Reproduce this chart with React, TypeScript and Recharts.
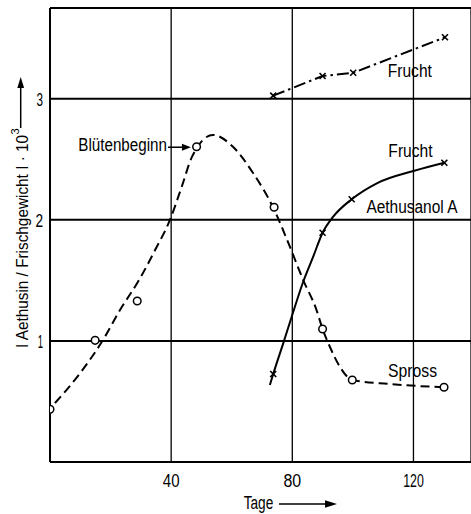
import React from "react";
import {
  ComposedChart,
  Line,
  Scatter,
  XAxis,
  YAxis,
  CartesianGrid,
  ReferenceLine,
  ReferenceDot,
  Customized,
} from "recharts";

const FONT = '"Liberation Sans", Arial, sans-serif';

// axis ticks
const xTicks = [40, 80, 120];
const yTicks = [1, 2, 3];

// Spross (shoot) – measured points
const sprossDays = [0, 14.9, 28.8, 48.4, 74.0, 90.0, 99.8, 130.1];
const sprossValues = [0.435, 1.005, 1.33, 2.604, 2.104, 1.099, 0.677, 0.617];

// Spross – drawn fitted curve
const sprossCurveDays = [1.65, 9.9, 17.5, 23.1, 29.4, 34.7, 39.6, 43.5, 46.9, 53.8, 60.4, 67.1, 73.6, 79.2, 83.6, 88.0, 90.0, 92.4, 95.7, 99.8, 112.2, 130.1];
const sprossCurveValues = [0.487, 0.733, 1.008, 1.255, 1.503, 1.751, 1.999, 2.274, 2.522, 2.701, 2.604, 2.385, 2.106, 1.778, 1.503, 1.255, 1.099, 0.952, 0.787, 0.677, 0.644, 0.617];

// Aethusanol A (Frucht) – measured points
const aethDays = [73.7, 90.0, 99.6, 130.2];
const aethValues = [0.727, 1.894, 2.17, 2.472];

// Aethusanol A – drawn curve
const aethCurveDays = [72.6, 73.7, 77.0, 79.8, 83.6, 86.9, 90.0, 93.5, 99.6, 107.9, 120.3, 130.2];
const aethCurveValues = [0.636, 0.727, 0.98, 1.2, 1.489, 1.696, 1.894, 2.026, 2.17, 2.302, 2.406, 2.472];

// Aethusin Frucht – measured points
const fruchtDays = [73.7, 90.0, 100.1, 130.4];
const fruchtValues = [3.026, 3.188, 3.215, 3.508];

const toPoints = (xs: number[], ys: number[]) => xs.map((x, i) => ({ x, y: ys[i] }));

const sprossPts = toPoints(sprossDays, sprossValues);
const sprossCurve = toPoints(sprossCurveDays, sprossCurveValues);
const aethPts = toPoints(aethDays, aethValues);
const aethCurve = toPoints(aethCurveDays, aethCurveValues);
const fruchtPts = toPoints(fruchtDays, fruchtValues);

// horizontal squeeze of the lettering (condensed type)
const xTickScale: Record<number, number> = { 40: 0.79, 80: 0.84, 120: 0.65 };
const yTickScale: Record<number, number> = { 1: 0.5, 2: 0.72, 3: 0.62 };

const CircleMark = (p: any) => (
  <circle cx={p.cx} cy={p.cy} r={3.8} fill="#fff" stroke="#000" strokeWidth={1.5} />
);

const CrossMark = (p: any) => (
  <g stroke="#000" strokeWidth={1.6}>
    <line x1={p.cx - 3} y1={p.cy - 3} x2={p.cx + 3} y2={p.cy + 3} />
    <line x1={p.cx - 3} y1={p.cy + 3} x2={p.cx + 3} y2={p.cy - 3} />
  </g>
);

const XTick = (p: any) => (
  <text
    transform={`translate(${p.x},${p.y}) scale(${xTickScale[p.payload.value] ?? 0.8},1)`}
    dy="0.71em"
    textAnchor="middle"
    fontFamily={FONT}
    fontSize={19}
    fill="#000"
  >
    {p.payload.value}
  </text>
);

const YTick = (p: any) => (
  <text
    transform={`translate(${p.x},${p.y}) scale(${yTickScale[p.payload.value] ?? 0.7},1)`}
    dy="0.36em"
    textAnchor="end"
    fontFamily={FONT}
    fontSize={19}
    fill="#000"
  >
    {p.payload.value}
  </text>
);

const textLabel = (txt: string, sx: number) => (props: any) => {
  const vb = props.viewBox || {};
  const cx = vb.x + (vb.width || 0) / 2;
  const cy = vb.y + (vb.height || 0) / 2;
  return (
    <text
      transform={`translate(${cx},${cy}) scale(${sx},1)`}
      textAnchor="middle"
      dominantBaseline="central"
      fontFamily={FONT}
      fontSize={19}
      fill="#000"
    >
      {txt}
    </text>
  );
};

const bluetenLabel = (props: any) => {
  const vb = props.viewBox || {};
  const cx = vb.x + (vb.width || 0) / 2;
  const cy = vb.y + (vb.height || 0) / 2;
  return (
    <g>
      <line x1={cx - 25} y1={cy} x2={cx - 8} y2={cy} stroke="#000" strokeWidth={1.5} />
      <polygon points={`${cx - 2},${cy} ${cx - 11},${cy - 3.5} ${cx - 11},${cy + 3.5}`} fill="#000" />
      <text
        transform={`translate(${cx - 26},${cy - 3}) scale(0.8,1)`}
        textAnchor="end"
        dominantBaseline="central"
        fontFamily={FONT}
        fontSize={19}
        fill="#000"
      >
        Blütenbeginn
      </text>
    </g>
  );
};

const AxisDecor = () => (
  <g fontFamily={FONT} fill="#000">
    <g transform="translate(22,348) rotate(-90)">
      <text transform="scale(0.93,1)" x={0} y={0} textAnchor="start" dominantBaseline="central" fontSize={16.5}>
        I Aethusin / Frischgewicht I · 10
      </text>
      <text x={213.5} y={-7} textAnchor="start" dominantBaseline="central" fontSize={11}>
        3
      </text>
    </g>
    <line x1={20.7} y1={128} x2={20.7} y2={86} stroke="#000" strokeWidth={1.5} />
    <polygon points="20.7,77 17.3,88 24.1,88" fill="#000" />
    <text transform="translate(258.5,503) scale(0.72,1)" textAnchor="middle" dominantBaseline="central" fontSize={19}>
      Tage
    </text>
    <line x1={279} y1={504} x2={328} y2={504} stroke="#000" strokeWidth={1.5} />
    <polygon points="337,504 325,500.3 325,507.7" fill="#000" />
  </g>
);

export default function App() {
  return (
    <div style={{ position: "absolute", left: 0, top: 0, background: "#fff" }}>
      <ComposedChart width={471} height={514} margin={{ top: 8, right: 0, bottom: 22, left: 0 }}>
        <CartesianGrid horizontal={false} vertical={true} stroke="#000" strokeWidth={1.3} />
        <CartesianGrid horizontal={true} vertical={false} stroke="#000" strokeWidth={2} />
        <XAxis
          dataKey="x"
          type="number"
          domain={[0, 139]}
          ticks={xTicks}
          allowDataOverflow
          height={30}
          axisLine={{ stroke: "#000", strokeWidth: 2 }}
          tickLine={false}
          tickSize={0}
          tickMargin={11}
          tick={XTick}
        />
        <YAxis
          dataKey="y"
          type="number"
          domain={[0, 3.75]}
          ticks={yTicks}
          allowDataOverflow
          width={50}
          axisLine={{ stroke: "#000", strokeWidth: 2 }}
          tickLine={false}
          tickSize={0}
          tickMargin={7}
          tick={YTick}
        />
        <ReferenceLine y={3.75} stroke="#000" strokeWidth={2} />

        <Line
          data={sprossCurve}
          dataKey="y"
          type="monotone"
          stroke="#000"
          strokeWidth={2}
          strokeDasharray="9 5"
          dot={false}
          isAnimationActive={false}
        />
        <Line
          data={aethCurve}
          dataKey="y"
          type="monotone"
          stroke="#000"
          strokeWidth={2}
          dot={false}
          isAnimationActive={false}
        />
        <Line
          data={fruchtPts}
          dataKey="y"
          type="linear"
          stroke="#000"
          strokeWidth={2}
          strokeDasharray="12 4 2.5 4"
          dot={false}
          isAnimationActive={false}
        />
        <Scatter data={sprossPts} dataKey="y" shape={CircleMark} isAnimationActive={false} />
        <Scatter data={aethPts} dataKey="y" shape={CrossMark} isAnimationActive={false} />
        <Scatter data={fruchtPts} dataKey="y" shape={CrossMark} isAnimationActive={false} />

        <ReferenceDot x={118.8} y={3.238} r={1} fill="none" stroke="none" label={textLabel("Frucht", 0.82)} />
        <ReferenceDot x={119.0} y={2.577} r={1} fill="none" stroke="none" label={textLabel("Frucht", 0.82)} />
        <ReferenceDot x={119.5} y={2.109} r={1} fill="none" stroke="none" label={textLabel("Aethusanol A", 0.814)} />
        <ReferenceDot x={119.7} y={0.756} r={1} fill="none" stroke="none" label={textLabel("Spross", 0.83)} />
        <ReferenceDot x={47.2} y={2.6} r={1} fill="none" stroke="none" label={bluetenLabel} />

        <Customized component={AxisDecor} />
      </ComposedChart>
    </div>
  );
}
